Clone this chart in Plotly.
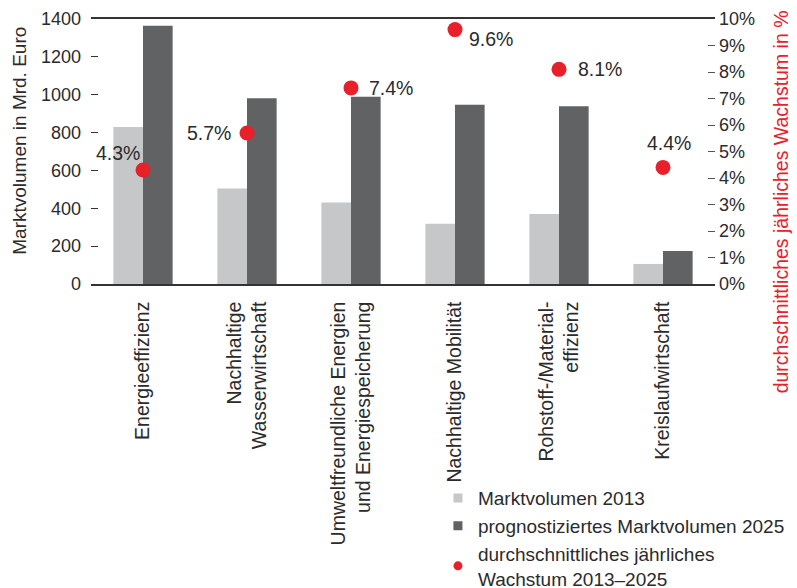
import plotly.graph_objects as go

categories = [
    "Energieeffizienz",
    "Nachhaltige<br>Wasserwirtschaft",
    "Umweltfreundliche Energien<br>und Energiespeicherung",
    "Nachhaltige Mobilität",
    "Rohstoff-/Material-<br>effizienz",
    "Kreislaufwirtschaft",
]
volume_2013 = [830, 505, 430, 318, 370, 106]
volume_2025 = [1365, 981, 989, 947, 939, 174]
growth = [4.3, 5.7, 7.4, 9.6, 8.1, 4.4]
growth_labels = ["4.3%", "5.7%", "7.4%", "9.6%", "8.1%", "4.4%"]

# label placement styles (anchor, xshift, yshift)
label_style = [
    ("right", -1, 17),
    ("right", -14, 0),
    ("left", 16, 0),
    ("left", 12, -9),
    ("left", 17, 0),
    ("center", 6, 24),
]

LIGHT = "#c6c7c9"
DARK = "#616264"
RED = "#e8202a"
TXT = "#2b2b2b"
FONT = "Liberation Sans, Arial, sans-serif"

fig = go.Figure()
fig.add_trace(go.Bar(x=categories, y=volume_2013, marker_color=LIGHT, showlegend=False,
                     marker_line_width=0))
fig.add_trace(go.Bar(x=categories, y=volume_2025, marker_color=DARK, showlegend=False,
                     marker_line_width=0))
fig.add_trace(go.Scatter(x=categories, y=growth, yaxis="y2", mode="markers",
                         marker=dict(color=RED, size=15), showlegend=False))

# legend entries
fig.add_trace(go.Scatter(x=[None], y=[None], mode="markers", name="Marktvolumen 2013",
                         marker=dict(symbol="square", color=LIGHT, size=9), legendgroup="a"))
fig.add_trace(go.Scatter(x=[None], y=[None], mode="markers", name="prognostiziertes Marktvolumen 2025",
                         marker=dict(symbol="square", color=DARK, size=9), legendgroup="b"))
fig.add_trace(go.Scatter(x=[None], y=[None], mode="markers",
                         name="durchschnittliches jährliches<br>Wachstum 2013–2025",
                         marker=dict(symbol="circle", color=RED, size=9), legendgroup="c"))

annotations = []
for cat, val, lab, (anc, xs, ys) in zip(categories, growth, growth_labels, label_style):
    annotations.append(dict(x=cat, y=val, xref="x", yref="y2", text=lab, showarrow=False,
                            xanchor=anc, yanchor="middle", xshift=xs, yshift=ys,
                            font=dict(size=19.5, color=TXT, family=FONT)))

annotations.append(dict(x=-0.114, y=0.54, xref="paper", yref="paper",
                        xanchor="center", yanchor="middle",
                        text="Marktvolumen in Mrd. Euro", textangle=-90, showarrow=False,
                        font=dict(size=19, color=TXT, family=FONT)))
annotations.append(dict(x=1.105, y=0.31, xref="paper", yref="paper",
                        xanchor="center", yanchor="middle",
                        text="durchschnittliches jährliches Wachstum in %", textangle=-90,
                        showarrow=False, font=dict(size=19.5, color=RED, family=FONT)))

fig.update_layout(
    width=797, height=588,
    margin=dict(l=91, r=82, t=19, b=304),
    paper_bgcolor="white", plot_bgcolor="white",
    barmode="group", bargap=0.43, bargroupgap=0,
    font=dict(family=FONT, size=18, color=TXT),
    annotations=annotations,
    xaxis=dict(tickangle=-90, showline=True, mirror=True, linecolor="#333", linewidth=1.5,
               ticks="", showgrid=False, automargin=False, ticklabelstandoff=8,
               tickfont=dict(size=19.5, color=TXT)),
    yaxis=dict(range=[0, 1400], dtick=200, showgrid=False, zeroline=False, showline=False,
               ticks="inside", ticklen=7, tickcolor="#333", tickwidth=1, automargin=False,
               ticklabelstandoff=9, tickfont=dict(size=18, color=TXT)),
    yaxis2=dict(range=[0, 10], dtick=1, overlaying="y", side="right", ticksuffix="%",
                showgrid=False, zeroline=False, showline=False, automargin=False,
                ticks="inside", ticklen=7, tickcolor="#555", tickwidth=1,
                ticklabelstandoff=3, tickfont=dict(size=18, color=TXT)),
    legend=dict(x=0.556, xref="paper", y=0.185, yref="container", xanchor="left",
                yanchor="top", bgcolor="rgba(0,0,0,0)",
                font=dict(size=19, color=TXT), tracegroupgap=0, itemwidth=30),
)

fig.write_html("out.html", config={"displayModeBar": False},
               post_script="document.body.style.margin='0';")
